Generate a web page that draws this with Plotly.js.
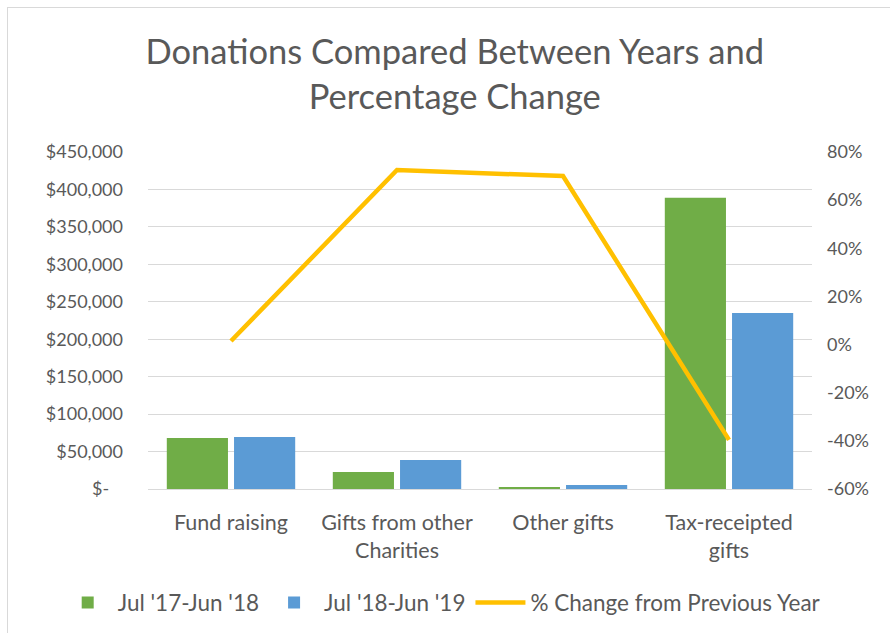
<!DOCTYPE html>
<html>
<head>
<meta charset="utf-8">
<script src="https://cdn.plot.ly/plotly-3.0.1.min.js"></script>
<style>
html,body{margin:0;padding:0;background:#fff;}
#wrap{position:relative;width:890px;height:633px;}
#chart{width:890px;height:633px;}
#frame{position:absolute;left:7px;top:7px;width:883px;height:626px;border-left:1.5px solid #D9D9D9;border-top:1.5px solid #D9D9D9;pointer-events:none;}
</style>
</head>
<body>
<div id="wrap"><div id="chart"></div><div id="frame"></div></div>
<script>
var categories = ["Fund raising", "Gifts from other<br>Charities", "Other gifts", "Tax-receipted<br>gifts"];
var year1Values = [68000, 22700, 2700, 389000];
var year2Values = [69300, 38700, 5300, 235000];
var pctChange = [1.5, 72.5, 70, -39.6];
var leftTickVals = [0, 50000, 100000, 150000, 200000, 250000, 300000, 350000, 400000, 450000];
var leftTickText = ["$-   ", "$50,000", "$100,000", "$150,000", "$200,000", "$250,000", "$300,000", "$350,000", "$400,000", "$450,000"];
var rightTickVals = [-60, -40, -20, 0, 20, 40, 60, 80];
var rightTickText = ["-60%", "-40%", "-20%", "0%", "20%", "40%", "60%", "80%"];
var seriesNames = ["Jul '17-Jun '18", "Jul '18-Jun '19", "% Change from Previous Year"];

var font = "Lato, 'Open Sans', sans-serif";
var grey = "#595959";

var traces = [
  {type: "bar", name: seriesNames[0], x: categories, y: year1Values, marker: {color: "#70AD47"}, yaxis: "y"},
  {type: "bar", name: seriesNames[1], x: categories, y: year2Values, marker: {color: "#5B9BD5"}, yaxis: "y"},
  {type: "scatter", mode: "lines", name: seriesNames[2], x: categories, y: pctChange, yaxis: "y2",
   line: {color: "#FFC000", width: 4.5}}
];

var layout = {
  width: 890, height: 633,
  margin: {l: 148, r: 78, t: 152, b: 144, autoexpand: false},
  paper_bgcolor: "#fff", plot_bgcolor: "#fff",
  font: {family: font, color: grey, size: 18},
  title: {text: "Donations Compared Between Years and<br>Percentage Change", x: 0.511, xanchor: "center",
          y: 0.899, yanchor: "top", font: {family: font, size: 34.5, color: grey}},
  barmode: "group", bargap: 0.19, bargroupgap: 0.09,
  showlegend: true,
  legend: {orientation: "h", x: -0.136, xanchor: "left", y: -0.338, yanchor: "middle",
           font: {size: 22.5, color: grey}, itemwidth: 50, traceorder: "normal"},
  xaxis: {showgrid: false, showline: true, linecolor: "#D9D9D9", linewidth: 1, ticks: "",
          ticklabelstandoff: 14, tickfont: {size: 21.5, color: grey}, fixedrange: true},
  yaxis: {range: [0, 450000], tickvals: leftTickVals, ticktext: leftTickText, showgrid: true,
          gridcolor: "#D9D9D9", gridwidth: 1, zeroline: false, showline: false, ticks: "",
          ticklabelstandoff: 24, tickfont: {size: 18, color: grey}},
  yaxis2: {range: [-60, 80], tickvals: rightTickVals, ticktext: rightTickText, overlaying: "y", side: "right",
           showgrid: false, zeroline: false, showline: false, ticks: "", ticklabelstandoff: 14,
           tickfont: {size: 18, color: grey}}
};

Plotly.newPlot("chart", traces, layout, {displayModeBar: false, staticPlot: true});
</script>
</body>
</html>
